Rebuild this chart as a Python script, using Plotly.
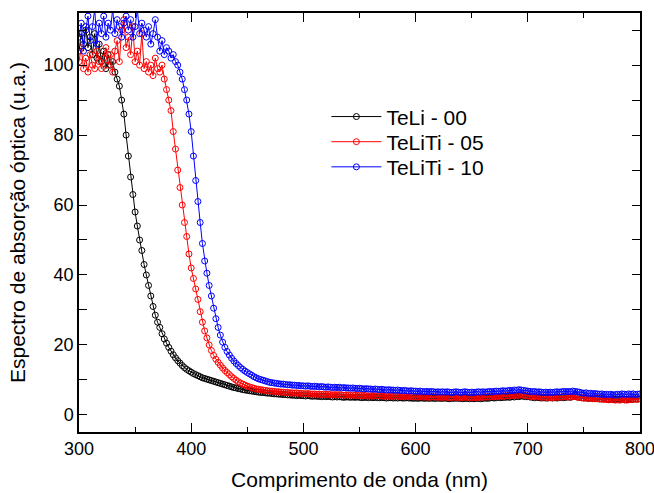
import plotly.graph_objects as go

# Wavelength grid (nm), 2 nm steps from 300 to 800
wavelength = list(range(300, 801, 2))

teli_00 = [
    104, 109, 106, 111, 105, 108, 103, 109, 102, 106,
    101, 104, 99, 103, 100, 101, 98, 96, 94, 90,
    86, 80, 74, 68, 63, 58, 54, 50, 47, 43,
    40, 37, 34, 31, 28.5, 26.5, 25, 23.2, 21.7, 20.5,
    19.3, 18.2, 17.2, 16.3, 15.5, 14.8, 14.1, 13.5, 13.0, 12.6,
    12.2, 11.8, 11.5, 11.2, 10.9, 10.6, 10.4, 10.2, 10.0, 9.8,
    9.6, 9.4, 9.2, 9.0, 8.8, 8.6, 8.4, 8.2, 8.0, 7.8,
    7.7, 7.5, 7.4, 7.2, 7.1, 7.0, 6.9, 6.8, 6.7, 6.6,
    6.5, 6.4, 6.4, 6.3, 6.2, 6.2, 6.1, 6.0, 6.0, 5.9,
    5.9, 5.8, 5.8, 5.7, 5.7, 5.6, 5.6, 5.5, 5.6, 5.5,
    5.5, 5.4, 5.5, 5.4, 5.3, 5.4, 5.3, 5.3, 5.2, 5.3,
    5.2, 5.3, 5.2, 5.1, 5.2, 5.1, 5.2, 5.1, 5.0, 5.1,
    5.1, 5.0, 5.1, 5.0, 5.1, 5.0, 4.9, 5.0, 5.0, 4.9,
    5.0, 4.9, 5.0, 4.9, 4.9, 5.0, 4.9, 4.8, 4.9, 4.9,
    4.8, 4.9, 4.8, 4.9, 4.8, 4.8, 4.9, 4.8, 4.8, 4.7,
    4.8, 4.7, 4.8, 4.8, 4.7, 4.8, 4.7, 4.8, 4.7, 4.7,
    4.8, 4.7, 4.7, 4.8, 4.7, 4.6, 4.7, 4.7, 4.8, 4.7,
    4.7, 4.6, 4.7, 4.7, 4.6, 4.7, 4.6, 4.7, 4.7, 4.6,
    4.7, 4.8, 4.7, 4.8, 4.9, 4.8, 4.9, 5.0, 4.9, 5.0,
    5.0, 5.1, 5.0, 5.2, 5.1, 5.3, 5.2, 5.4, 5.3, 5.2,
    5.2, 5.1, 5.0, 4.9, 5.0, 4.9, 4.8, 4.9, 4.8, 4.8,
    4.9, 4.8, 4.9, 4.8, 4.9, 5.0, 4.9, 5.0, 5.1, 5.0,
    5.2, 5.6, 5.1, 5.0, 4.9, 4.8, 4.8, 4.7, 4.8, 4.7,
    4.6, 4.7, 4.6, 4.5, 4.6, 4.5, 4.4, 4.5, 4.4, 4.5,
    4.4, 4.5, 4.4, 4.3, 4.4, 4.5, 4.4, 4.5, 4.6, 4.5,
    4.6,
]

teliti_05 = [
    101, 105, 99, 102, 98, 103, 100, 99, 104, 101,
    99, 102, 105, 100, 103, 98, 104, 107, 101, 110,
    113, 105, 108, 103, 111, 101, 104, 100, 109, 99,
    101, 98, 100, 97, 102, 99, 98, 100, 96, 93,
    90, 87, 81, 76, 70, 65, 60, 55, 51, 46,
    42, 39, 36, 33, 29.5, 26.5, 24, 22, 20, 18.4,
    17, 15.9, 15, 14.2, 13.4, 12.7, 12.1, 11.5, 10.9, 10.4,
    9.9, 9.5, 9.1, 8.8, 8.5, 8.2, 8.0, 7.8, 7.6, 7.4,
    7.3, 7.2, 7.1, 7.0, 6.9, 6.8, 6.8, 6.7, 6.6, 6.6,
    6.5, 6.5, 6.4, 6.4, 6.3, 6.3, 6.2, 6.3, 6.2, 6.1,
    6.1, 6.0, 6.1, 6.0, 5.9, 6.0, 5.9, 5.9, 5.8, 5.9,
    5.8, 5.9, 5.8, 5.7, 5.8, 5.7, 5.8, 5.7, 5.6, 5.7,
    5.7, 5.6, 5.7, 5.6, 5.5, 5.6, 5.5, 5.6, 5.5, 5.4,
    5.5, 5.4, 5.5, 5.4, 5.5, 5.4, 5.3, 5.4, 5.3, 5.4,
    5.3, 5.4, 5.3, 5.2, 5.3, 5.2, 5.3, 5.2, 5.3, 5.2,
    5.2, 5.1, 5.2, 5.1, 5.2, 5.1, 5.0, 5.1, 5.2, 5.1,
    5.0, 5.1, 5.0, 5.1, 5.0, 4.9, 5.0, 5.1, 5.0, 5.0,
    4.9, 5.0, 5.1, 5.0, 4.9, 5.0, 5.0, 4.9, 5.0, 5.1,
    5.0, 5.1, 5.2, 5.1, 5.2, 5.3, 5.2, 5.3, 5.4, 5.3,
    5.4, 5.5, 5.4, 5.6, 5.5, 5.7, 5.6, 5.8, 5.6, 5.5,
    5.4, 5.3, 5.2, 5.3, 5.1, 5.2, 5.0, 5.1, 5.0, 4.9,
    5.0, 4.9, 5.0, 5.1, 5.0, 5.1, 5.2, 5.1, 5.2, 5.1,
    5.3, 5.2, 5.1, 5.0, 4.9, 4.8, 4.9, 4.7, 4.8, 4.6,
    4.7, 4.6, 4.5, 4.6, 4.4, 4.5, 4.3, 4.4, 4.3, 4.2,
    4.3, 4.2, 4.4, 4.3, 4.2, 4.3, 4.4, 4.5, 4.4, 4.5,
    4.6,
]

teliti_10 = [
    108, 112, 104, 110, 114, 107, 111, 116, 106, 112,
    109, 114, 108, 112, 110, 116, 109, 113, 111, 108,
    112, 114, 110, 113, 108, 111, 116, 109, 112, 110,
    108, 111, 106, 109, 113, 108, 104, 107, 103, 105,
    104, 102, 103, 101, 100, 98, 96, 93, 90, 86,
    81, 74, 67, 61, 55, 49, 44, 40.5, 37, 34,
    30.5, 27.5, 25, 22.8, 20.8, 19.3, 18.1, 17.1, 16.2, 15.4,
    14.7, 14.1, 13.5, 13.0, 12.5, 12.1, 11.7, 11.3, 10.9, 10.6,
    10.3, 10.1, 9.9, 9.7, 9.5, 9.3, 9.2, 9.1, 9.0, 8.9,
    8.8, 8.8, 8.7, 8.6, 8.6, 8.5, 8.5, 8.4, 8.4, 8.3,
    8.3, 8.2, 8.3, 8.2, 8.1, 8.2, 8.1, 8.0, 8.1, 8.0,
    7.9, 8.0, 7.9, 7.8, 7.9, 7.8, 7.9, 7.7, 7.8, 7.7,
    7.7, 7.6, 7.7, 7.6, 7.5, 7.6, 7.5, 7.4, 7.5, 7.4,
    7.4, 7.3, 7.4, 7.3, 7.2, 7.3, 7.2, 7.1, 7.2, 7.1,
    7.1, 7.0, 7.1, 7.0, 6.9, 7.0, 6.9, 6.8, 6.9, 6.8,
    6.8, 6.7, 6.8, 6.7, 6.6, 6.7, 6.6, 6.7, 6.6, 6.5,
    6.6, 6.5, 6.6, 6.5, 6.6, 6.5, 6.4, 6.5, 6.6, 6.5,
    6.4, 6.5, 6.6, 6.5, 6.4, 6.5, 6.4, 6.5, 6.6, 6.5,
    6.6, 6.5, 6.6, 6.7, 6.6, 6.7, 6.8, 6.7, 6.8, 6.9,
    6.8, 6.9, 7.0, 6.9, 7.1, 7.0, 7.2, 7.1, 7.0, 6.9,
    6.8, 6.7, 6.6, 6.7, 6.5, 6.6, 6.5, 6.4, 6.5, 6.4,
    6.5, 6.4, 6.5, 6.6, 6.5, 6.6, 6.7, 6.6, 6.7, 6.6,
    6.8, 6.7, 6.6, 6.5, 6.3, 6.2, 6.3, 6.1, 6.2, 6.0,
    6.1, 6.0, 5.9, 6.0, 5.8, 5.9, 5.8, 5.9, 5.7, 5.8,
    5.9, 5.8, 6.0, 5.9, 5.8, 6.0, 5.9, 6.0, 5.8, 5.9,
    6.0,
]

series_names = ["TeLi - 00", "TeLiTi - 05", "TeLiTi - 10"]
series_values = [teli_00, teliti_05, teliti_10]
series_colors = ["#000000", "#FF0000", "#0000FF"]
legend_ids = ["legend", "legend2", "legend3"]
legend_rows_y = [0.752, 0.692, 0.632]

x_tick_vals = [300, 400, 500, 600, 700, 800]
y_tick_vals = [0, 20, 40, 60, 80, 100]

FONT = "Liberation Sans, Arial, sans-serif"

fig = go.Figure()
for name, vals, col, lg in zip(series_names, series_values, series_colors, legend_ids):
    fig.add_trace(go.Scatter(
        x=wavelength, y=vals, name=name, mode="lines+markers",
        line=dict(color=col, width=1),
        marker=dict(symbol="circle-open", size=6, color=col, line=dict(width=1, color=col)),
        legend=lg,
    ))

axis_common = dict(
    showline=True, linecolor="black", linewidth=1.5, mirror="allticks",
    ticks="inside", tickcolor="black", tickwidth=1.2,
    showgrid=False, zeroline=False, automargin=False,
    tickfont=dict(family=FONT, size=18, color="black"),
)

legend_style = dict(
    x=0.441, xanchor="left", yanchor="middle",
    bgcolor="rgba(0,0,0,0)", borderwidth=0,
    font=dict(family=FONT, size=21, color="black"),
    itemwidth=50,
)

fig.update_layout(
    width=654, height=493,
    margin=dict(l=79, r=14, t=13, b=61),
    paper_bgcolor="white", plot_bgcolor="white",
    font=dict(family=FONT, color="black"),
    showlegend=True,
    hovermode=False,
    legend=dict(y=legend_rows_y[0], **legend_style),
    legend2=dict(y=legend_rows_y[1], **legend_style),
    legend3=dict(y=legend_rows_y[2], **legend_style),
    xaxis=dict(
        range=[300, 800], tickvals=x_tick_vals, ticklen=9,
        ticklabeloverflow="allow",
        minor=dict(dtick=50, ticks="inside", ticklen=5, tickcolor="black", tickwidth=1.2),
        title=dict(text="Comprimento de onda (nm)", font=dict(family=FONT, size=21), standoff=14),
        **axis_common,
    ),
    yaxis=dict(
        range=[-4.9, 114.9], tickvals=y_tick_vals, ticklen=8,
        minor=dict(dtick=10, ticks="inside", ticklen=8, tickcolor="black", tickwidth=1.2),
        title=dict(text="Espectro de absorção óptica (u.a.)", font=dict(family=FONT, size=21), standoff=12),
        **axis_common,
    ),
)

# remove the browser's default 8px page margin so the figure fills the window exactly
fig.write_html(
    "out.html",
    config={"displayModeBar": False},
    post_script="document.body.style.margin='0';document.body.style.overflow='hidden';",
)
